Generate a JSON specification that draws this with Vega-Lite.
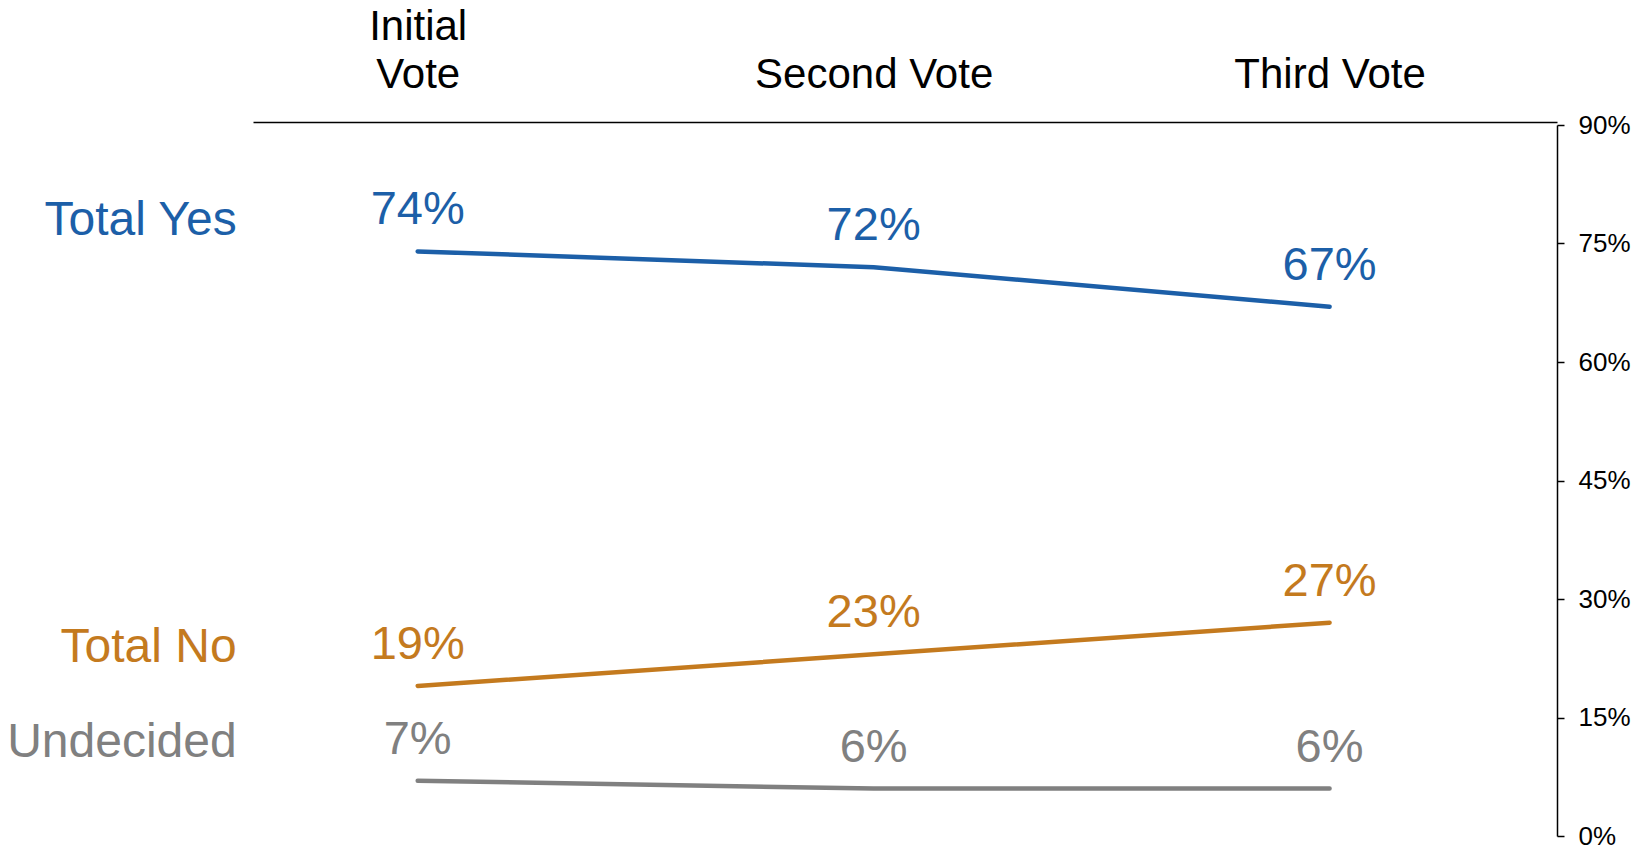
{
  "$schema": "https://vega.github.io/schema/vega-lite/v6.json",
  "width": 1304,
  "height": 711,
  "autosize": "none",
  "padding": {"left": 253, "top": 125, "right": 95, "bottom": 13},
  "background": "white",
  "config": {"view": {"stroke": null}, "font": "Liberation Sans"},
  "data": {
    "values": [
      {"vote": "Initial Vote", "series": "Total Yes", "value": 74},
      {"vote": "Second Vote", "series": "Total Yes", "value": 72},
      {"vote": "Third Vote", "series": "Total Yes", "value": 67},
      {"vote": "Initial Vote", "series": "Total No", "value": 19},
      {"vote": "Second Vote", "series": "Total No", "value": 23},
      {"vote": "Third Vote", "series": "Total No", "value": 27},
      {"vote": "Initial Vote", "series": "Undecided", "value": 7},
      {"vote": "Second Vote", "series": "Undecided", "value": 6},
      {"vote": "Third Vote", "series": "Undecided", "value": 6}
    ]
  },
  "encoding": {
    "x": {
      "field": "vote",
      "type": "ordinal",
      "sort": ["Initial Vote", "Second Vote", "Third Vote"],
      "scale": {"type": "point", "padding": 0.43, "align": 0.42},
      "axis": {
        "orient": "top",
        "title": null,
        "offset": 3,
        "domainColor": "black",
        "domainWidth": 1.5,
        "ticks": false,
        "tickSize": 0,
        "grid": false,
        "labelFont": "Liberation Sans",
        "labelFontSize": 42,
        "labelColor": "black",
        "labelPadding": 74,
        "labelLimit": 0,
        "labelAngle": 0,
        "labelOverlap": false,
        "labelLineHeight": 48,
        "labelBaseline": "bottom",
        "labelExpr": "datum.value == 'Initial Vote' ? ['Initial', 'Vote'] : ['', datum.value]"
      }
    },
    "y": {
      "field": "value",
      "type": "quantitative",
      "scale": {"domain": [0, 90]},
      "axis": {
        "orient": "right",
        "title": null,
        "values": [0, 15, 30, 45, 60, 75, 90],
        "grid": false,
        "domainColor": "black",
        "domainWidth": 1.5,
        "tickColor": "black",
        "tickWidth": 1.5,
        "tickSize": 7,
        "labelPadding": 14,
        "labelFont": "Liberation Sans",
        "labelFontSize": 26,
        "labelColor": "black",
        "labelBaseline": "middle",
        "labelExpr": "datum.value + '%'"
      }
    },
    "color": {
      "field": "series",
      "type": "nominal",
      "scale": {"domain": ["Total Yes", "Total No", "Undecided"], "range": ["#1c5fa8", "#c47a1e", "#808080"]},
      "legend": null
    }
  },
  "layer": [
    {"mark": {"type": "line", "strokeWidth": 4.5, "strokeCap": "round"}},
    {
      "transform": [{"calculate": "datum.value + '%'", "as": "label"}],
      "mark": {"type": "text", "fontSize": 47, "dy": -27, "baseline": "alphabetic", "font": "Liberation Sans"},
      "encoding": {"text": {"field": "label"}}
    },
    {
      "transform": [{"filter": "datum.vote == 'Initial Vote' && datum.series == 'Total Yes'"}],
      "mark": {"type": "text", "fontSize": 48, "align": "right", "dx": -181, "dy": -16, "baseline": "alphabetic", "font": "Liberation Sans"},
      "encoding": {"text": {"field": "series"}}
    },
    {
      "transform": [{"filter": "datum.vote == 'Initial Vote' && datum.series != 'Total Yes'"}],
      "mark": {"type": "text", "fontSize": 48, "align": "right", "dx": -181, "dy": -24, "baseline": "alphabetic", "font": "Liberation Sans"},
      "encoding": {"text": {"field": "series"}}
    }
  ]
}
